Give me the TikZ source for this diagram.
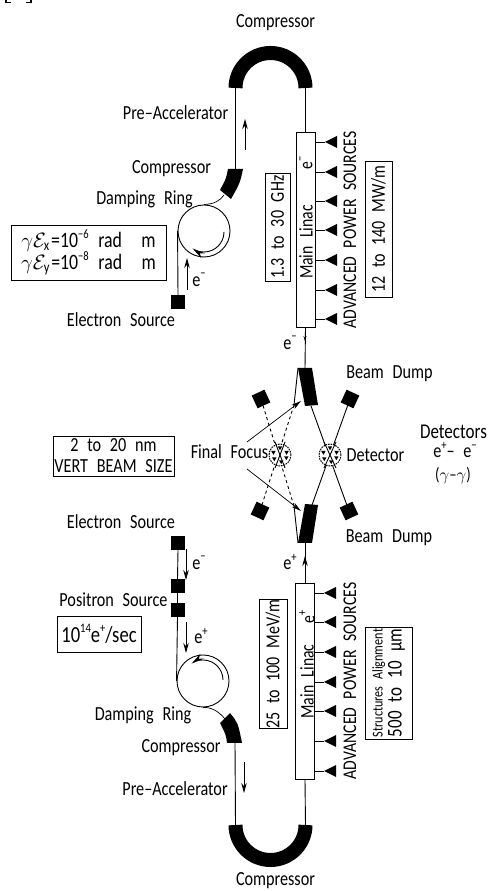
\documentclass[tikz,border=0pt]{standalone}
\usepackage{fontspec}
\usepackage{amsmath}
\setmainfont[FakeStretch=0.81,WordSpace=2.4]{Carlito}
\usepackage{tikz}
\usetikzlibrary{arrows.meta}
\newcommand{\supr}[1]{\raisebox{0.42em}{\fontsize{13}{13}\selectfont #1}}
\tikzset{
  lbl/.style={inner sep=0pt, font=\fontsize{20}{21}\selectfont, align=center},
  lblbox/.style={lbl, draw, line width=0.9pt},
  bigbox/.style={lblbox, rotate=90, font=\fontsize{19.8}{21}\selectfont},
  sidelbl/.style={lbl, rotate=90, font=\fontsize{19.4}{20}\selectfont},
  beam/.style={line width=0.9pt},
  thinbeam/.style={line width=0.7pt},
  flow/.style={line width=0.9pt, -{Stealth[length=10pt,width=5.5pt]}},
  ringflow/.style={line width=0.9pt, -{Stealth[length=13pt,width=6pt]}},
  dumpsq/.style={fill=black, minimum size=14pt, inner sep=0pt},
  ring/.style={circle, draw, line width=0.9pt, minimum size=52pt, inner sep=0pt},
  detector/.style={circle, draw, dash pattern=on 1.6pt off 0.9pt, line width=1pt, minimum size=22pt, inner sep=0pt},
  linac/.style={draw, line width=0.9pt, fill=white, inner sep=0pt, minimum width=19pt},
  compbend/.style={line width=14pt}
}

\begin{document}
\begin{tikzpicture}[x=1pt,y=1pt]
	\useasboundingbox (0,0) rectangle (493,891);
	% clipped bracket at the page edge
	\draw[line width=1.2pt] (6,891) -- (6,888.5) -- (11,888.5);
	\draw[line width=1.2pt] (31,891) -- (31,888.5) -- (26,888.5);
	% upper arm
	\coordinate (topL) at (235.5,803);
	\coordinate (topR) at (305.5,803);
	\coordinate (compE) at (235.5,722);
	\node[linac, minimum height=195pt] (linacE) at (305.5,661.5) {};
	\draw[compbend] (topL) arc[start angle=180, end angle=0, radius=35pt];
	\draw[beam] (topL) -- (compE);
	\draw[beam] (topR) -- (linacE.north);
	\fill (228,722) -- (243,722) .. controls (240,708) .. (231,692) -- (220,701) .. controls (226,712) .. (228,722) -- cycle;
	\node[ring] (ringE) at (204,660) {};
	\node[dumpsq] (srcE) at (178,589) {};
	\draw[thinbeam] (ringE.north) .. controls (214,687) and (220,690) .. (224,696);
	\draw[beam] (srcE.north) -- (ringE.west);
	\draw[ringflow] (224,659) arc[start angle=0, end angle=-125, radius=20pt];
	\draw[flow] (187,601) -- (187,633);
	\draw[flow] (245,741) -- (245,772);
	\foreach \y in {749,719,690,661,631,601,572} {
		\draw[beam] (315,\y) -- (325,\y);
		\fill (325,\y) -- (337,\y+6) -- (337,\y-6) -- cycle;
	}
	% interaction region
	\coordinate (blockUt) at (305,523);
	\coordinate (blockLb) at (305,348);
	\fill (298,523) -- (312,523) -- (318,486) -- (305,485) -- cycle;
	\fill (305,387) -- (318,386) -- (312,348) -- (298,348) -- cycle;
	\node[dumpsq, rotate=25] (dumpUL) at (261,492) {};
	\node[dumpsq, rotate=-25] (dumpUR) at (350,492) {};
	\node[dumpsq, rotate=-25] (dumpLL) at (260,380) {};
	\node[dumpsq, rotate=25] (dumpLR) at (349,380) {};
	\coordinate (jointU) at (294,486);
	\coordinate (jointL) at (294,385);
	\draw[beam] (linacE.south) -- (blockUt);
	\draw[beam] (298,523) -- (jointU);
	\draw[beam] (298,348) -- (jointL);
	\draw[beam, dashed] (jointU) -- (dumpLL.center);
	\draw[beam, dashed] (jointL) -- (dumpUL.center);
	\draw[beam] (311,485) -- (dumpLR.center);
	\draw[beam] (312,386) -- (dumpUR.center);
	\node[detector, fill=white] (detL) at (280,436) {};
	\node[detector, fill=white] (detR) at (330,436) {};
	\draw[beam] (324,449) -- (336,423);
	\draw[beam] (336,449) -- (324,423);
	\draw[beam] (285,449) -- (275,423);
	\draw[beam] (275,449) -- (285,423);
	\foreach \d in {detL,detR} \foreach \a in {20,90,160,215,280,335} {
		\fill (\d.center) ++(\a:7) ++(-2.2,1.6) -- ++(4.4,0) -- ++(-2.2,-3.8) -- cycle;
	}
	\draw[thinbeam, -{Stealth[length=10pt,width=5pt]}] (247,449) -- (301,490);
	\draw[thinbeam, -{Stealth[length=10pt,width=5pt]}] (247,422) -- (301,380);
	\draw[-{Stealth[length=5pt,width=3pt]}, line width=0.7pt] (305,558) -- (305,550);
	% lower arm
	\coordinate (botL) at (235.5,66);
	\coordinate (botR) at (305.5,66);
	\coordinate (compP) at (235,148);
	\node[linac, minimum height=196pt] (linacP) at (305,210) {};
	\draw[compbend] (botL) arc[start angle=180, end angle=360, radius=35pt];
	\draw[beam] (compP) -- (botL);
	\draw[beam] (linacP.south) -- (botR);
	\fill (220,168) -- (230,178) .. controls (238,168) .. (242,148) -- (227,148) .. controls (226,156) .. (220,168) -- cycle;
	\node[ring] (ringP) at (203,210) {};
	\node[dumpsq] (srcS) at (178,348) {};
	\node[dumpsq] (srcP) at (177.5,305) {};
	\node[dumpsq] (srcQ) at (177.5,281) {};
	\draw[beam] (srcS.south) -- (srcP.north);
	\draw[beam] (srcP.south) -- (srcQ.north);
	\draw[beam] (srcQ.south) -- (ringP.west);
	\draw[thinbeam] (ringP.south) .. controls (213,184) and (220,178) .. (225,172);
	\draw[ringflow] (223,211) arc[start angle=0, end angle=125, radius=20pt];
	\draw[flow] (186,342) -- (186,311);
	\draw[flow] (186,269) -- (186,238);
	\draw[flow] (244,129) -- (244,98);
	\draw[beam] (blockLb) -- (linacP.north);
	\draw[flow] (305,322) -- (305,335);
	\foreach \y in {298,269,239,209,180,150,120} {
		\draw[beam] (314,\y) -- (324,\y);
		\fill (324,\y) -- (336,\y+6) -- (336,\y-6) -- cycle;
	}
	% labels
	\node[lbl] (compTopLbl) at (275.5,868) {Compressor};
	\node[lbl] (preELbl) at (175.5,778) {Pre--Accelerator};
	\node[lbl] (compELbl) at (171.5,722) {Compressor};
	\node[lbl] (ringELbl) at (144.5,692) {Damping Ring};
	\node[lbl] (srcELbl) at (121,571) {Electron Source};
	\node[lbl] (eminusA) at (199,611) {e\supr{−}};
	\node[sidelbl] (linacELbl) at (306,649) {Main Linac};
	\node[sidelbl] (eminusB) at (306,728) {e\supr{−}};
	\node[sidelbl] (powerE) at (350,661) {ADVANCED POWER SOURCES};
	\node[bigbox, minimum width=108pt, minimum height=25pt] (freqBox) at (277.5,664) {1.3 to 30 GHz};
	\node[bigbox, minimum width=136pt, minimum height=27pt] (gradEBox) at (378.5,662) {12 to 140 MW/m};
	\node[lblbox, minimum width=155pt, minimum height=55pt, font=\fontsize{22}{23}\selectfont] (emitBox) at (88.5,638.5) {$\gamma\mathcal{E}_{\mathrm{x}}$=10\supr{−6} rad\ \ m\\[-1pt]$\gamma\mathcal{E}_{\mathrm{y}}$=10\supr{−8} rad\ \ m};
	\node[lbl] (eminusC) at (290,548) {e\supr{−}};
	\node[lbl] (dumpULbl) at (389.5,517) {Beam Dump};
	\node[lbl] (focusLbl) at (229.5,439) {Final Focus};
	\node[lbl] (detLbl) at (375.5,436) {Detector};
	\node[lbl, font=\fontsize{21}{22}\selectfont] (detsLbl) at (453.5,459) {Detectors};
	\node[lbl] (pairLbl) at (455,433) {\smash{e\supr{+}– e\supr{−}}};
	\node[lbl, font=\fontsize{18}{19}\selectfont] (gammaLbl) at (453,415) {($\gamma$–$\gamma$)};
	\node[lblbox, minimum width=121pt, minimum height=40pt] (sizeBox) at (113.5,435) {2 to 20 nm\\VERT BEAM SIZE};
	\node[lbl] (dumpLLbl) at (389,353) {Beam Dump};
	\node[lbl] (srcSLbl) at (121,369) {Electron Source};
	\node[lbl] (eminusD) at (199,328) {e\supr{−}};
	\node[lbl] (eplusA) at (290,329) {e\supr{+}};
	\node[lbl] (srcPLbl) at (113.5,291) {Positron Source};
	\node[lbl] (eplusB) at (201,255) {e\supr{+}};
	\node[lblbox, minimum width=84pt, minimum height=36pt, font=\fontsize{23}{24}\selectfont] (rateBox) at (99,257) {10\supr{14}e\supr{+}/sec};
	\node[sidelbl] (linacPLbl) at (307,209.5) {Main Linac};
	\node[sidelbl] (eplusC) at (307,274) {e\supr{+}};
	\node[sidelbl] (powerP) at (350,210) {ADVANCED POWER SOURCES};
	\node[bigbox, minimum width=128pt, minimum height=28pt] (gradPBox) at (273,227) {25 to 100 MeV/m};
	\node[lblbox, rotate=90, minimum width=112pt, minimum height=47pt, font=\fontsize{15}{19}\selectfont] (alignBox) at (388.5,208) {Structures Alignment\\{\fontsize{21}{22}\selectfont 500 to 10 μm}};
	\node[lbl] (ringPLbl) at (143,176) {Damping Ring};
	\node[lbl] (compPLbl) at (181,143) {Compressor};
	\node[lbl] (prePLbl) at (175,102) {Pre--Accelerator};
	\node[lbl] (compBotLbl) at (275.5,10) {Compressor};
\end{tikzpicture}
\end{document}
